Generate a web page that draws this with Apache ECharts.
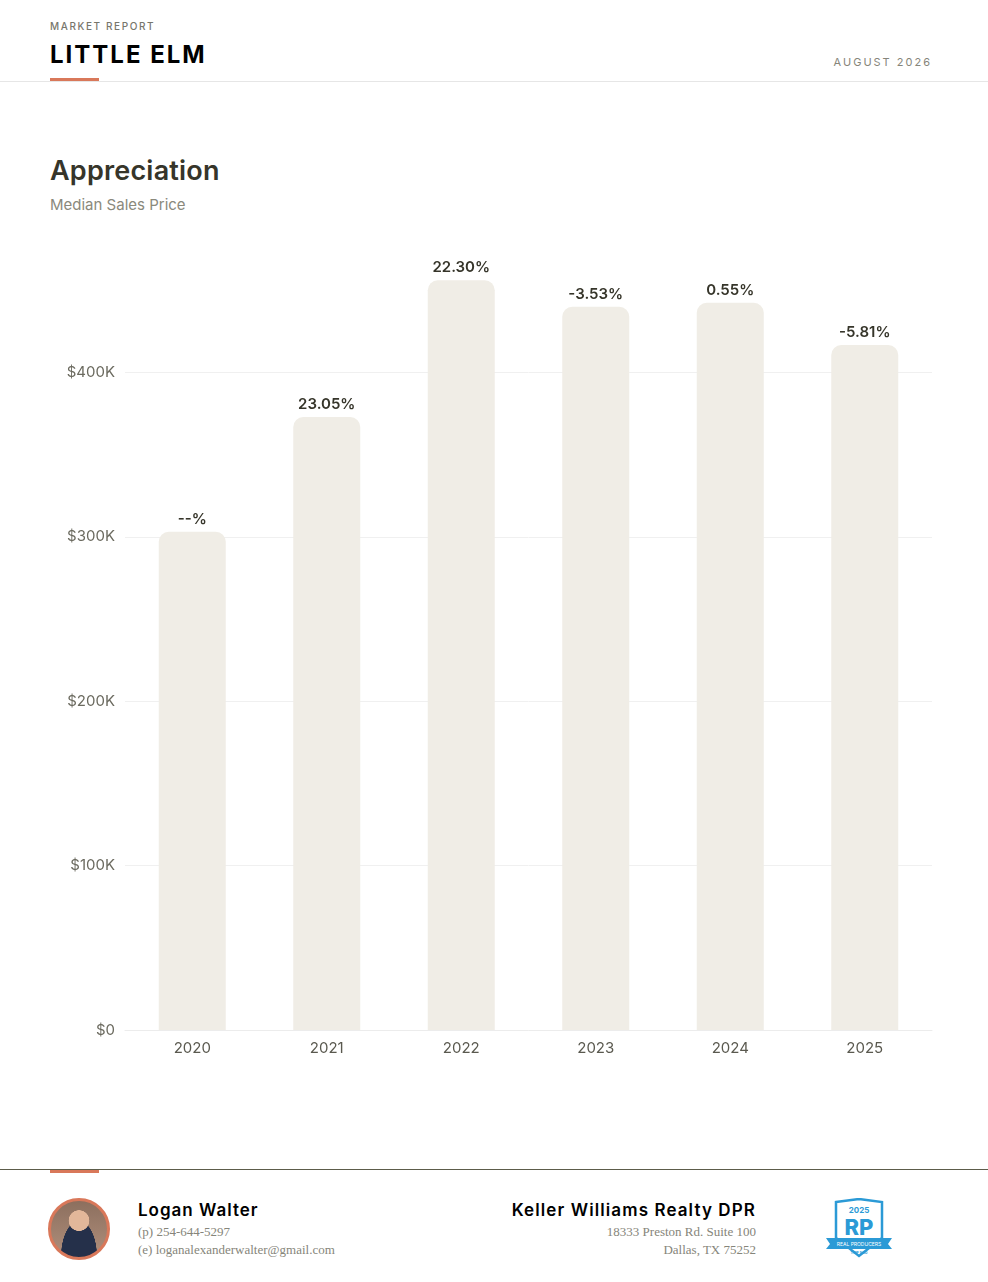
<!DOCTYPE html>
<html>
<head>
<meta charset="utf-8">
<title>Little Elm - Appreciation</title>
<script src="https://cdn.jsdelivr.net/npm/echarts@6/dist/echarts.min.js"></script>
<style>
  html, body { margin: 0; padding: 0; background: #fff; }
  body { width: 988px; height: 1282px; position: relative; overflow: hidden; font-family: Inter, "Noto Sans", sans-serif; }
  .kicker { position: absolute; left: 50px; top: 20px; font-size: 10px; letter-spacing: 1.6px; color: #77766c; font-weight: 500; }
  .city { position: absolute; left: 50px; top: 40px; font-size: 24px; letter-spacing: 2px; font-weight: 700; color: #000; }
  .date { position: absolute; right: 56px; top: 55px; font-size: 11px; letter-spacing: 2px; color: #86857a; }
  .rule-top { position: absolute; left: 0; right: 0; top: 81px; height: 1px; background: #e6e6e6; }
  .accent-top { position: absolute; left: 50px; top: 78px; width: 49px; height: 3px; background: #d9785a; }
  .title { position: absolute; left: 50px; top: 154px; font-size: 27px; font-weight: 600; letter-spacing: 0.2px; color: #36352a; }
  .subtitle { position: absolute; left: 50px; top: 195px; font-size: 15px; color: #8a897c; }
  #chart { position: absolute; left: 0; top: 190px; width: 988px; height: 910px; }
  .rule-bottom { position: absolute; left: 0; right: 0; top: 1169px; height: 1px; background: #5c5c4a; }
  .accent-bottom { position: absolute; left: 50px; top: 1170px; width: 49px; height: 3px; background: #d9785a; }
  .avatar { position: absolute; left: 48px; top: 1198px; width: 56px; height: 56px; border-radius: 50%; border: 3px solid #d9785a;
            background: radial-gradient(circle at 50% 35%, #e2b79a 0 22%, transparent 23%),
                        radial-gradient(ellipse at 50% 100%, #25304a 0 45%, transparent 46%),
                        linear-gradient(#8c6f5e, #b08f7c); }
  .name { position: absolute; left: 138px; top: 1200px; font-size: 17px; font-weight: 600; letter-spacing: 1px; color: #000; }
  .line { position: absolute; font-family: "Liberation Serif", "DejaVu Serif", serif; font-size: 13px; color: #86857a; }
  .brokerage { position: absolute; right: 232px; top: 1200px; font-size: 17px; font-weight: 600; letter-spacing: 1.1px; color: #000; }
  .badge { position: absolute; left: 824px; top: 1198px; }
</style>
</head>
<body>
<div class="kicker">MARKET REPORT</div>
<div class="city">LITTLE ELM</div>
<div class="date">AUGUST 2026</div>
<div class="rule-top"></div>
<div class="accent-top"></div>

<div class="title">Appreciation</div>
<div class="subtitle">Median Sales Price</div>
<div id="chart"></div>

<div class="rule-bottom"></div>
<div class="accent-bottom"></div>
<div class="avatar"></div>
<div class="name">Logan Walter</div>
<div class="line" style="left:138px;top:1224px;">(p) 254-644-5297</div>
<div class="line" style="left:138px;top:1242px;">(e) loganalexanderwalter@gmail.com</div>
<div class="brokerage">Keller Williams Realty DPR</div>
<div class="line" style="right:232px;top:1224px;">18333 Preston Rd. Suite 100</div>
<div class="line" style="right:232px;top:1242px;">Dallas, TX 75252</div>
<svg class="badge" width="70" height="62" viewBox="0 0 70 62">
  <path d="M12 4 L35 1 L58 4 L58 40 L35 58 L12 40 Z" fill="#fff" stroke="#2b9ad6" stroke-width="2.5"/>
  <text x="35" y="15" text-anchor="middle" font-family="Inter, sans-serif" font-weight="700" font-size="8" fill="#2b9ad6">2025</text>
  <text x="35" y="37" text-anchor="middle" font-family="Inter, sans-serif" font-weight="800" font-size="22" fill="#2b9ad6">RP</text>
  <path d="M2 40 L68 40 L64 46 L68 51 L2 51 L6 46 Z" fill="#2b9ad6"/>
  <text x="35" y="48" text-anchor="middle" font-family="Inter, sans-serif" font-size="5" fill="#fff">REAL PRODUCERS</text>
  <text x="35" y="56" text-anchor="middle" font-family="Inter, sans-serif" font-weight="700" font-size="4" fill="#2b9ad6">TOP 500</text>
</svg>

<script>
// chart data
var years = ['2020', '2021', '2022', '2023', '2024', '2025'];
var medianPrice = [303000, 372900, 456000, 439900, 442300, 416600];
var changeLabels = ['--%', '23.05%', '22.30%', '-3.53%', '0.55%', '-5.81%'];

var chart = echarts.init(document.getElementById('chart'), null, { renderer: 'canvas' });

var option = {
    animation: false,
    grid: { left: 125, right: 56, top: 18, bottom: 70 },
    xAxis: {
        type: 'category',
        data: years,
        axisLine: { show: true, lineStyle: { color: '#ececec', width: 1 } },
        axisTick: { show: false },
        axisLabel: { color: '#5a594f', fontSize: 15, margin: 11, fontFamily: 'Inter, sans-serif' }
    },
    yAxis: {
        type: 'value',
        min: 0,
        max: 500000,
        interval: 100000,
        axisLine: { show: false },
        axisTick: { show: false },
        axisLabel: {
            showMaxLabel: false,
            color: '#6b6a5f',
            fontSize: 15,
            margin: 10,
            fontFamily: 'Inter, sans-serif',
            formatter: function (v) {
                return v === 0 ? '$0' : '$' + (v / 1000) + 'K';
            }
        },
        splitLine: {
            lineStyle: { color: ['#f0f0f0', '#f0f0f0', '#f0f0f0', '#f0f0f0', '#f0f0f0', 'rgba(0,0,0,0)'], width: 1 }
        }
    },
    series: [{
        type: 'bar',
        data: medianPrice,
        barWidth: 67,
        itemStyle: { color: '#f0ede6', borderRadius: [10, 10, 0, 0] },
        label: {
            show: true,
            position: 'top',
            distance: 5,
            color: '#36352a',
            fontSize: 15,
            fontWeight: 600,
            fontFamily: 'Inter, sans-serif',
            formatter: function (p) { return changeLabels[p.dataIndex]; }
        }
    }]
};

chart.setOption(option);
</script>
</body>
</html>
